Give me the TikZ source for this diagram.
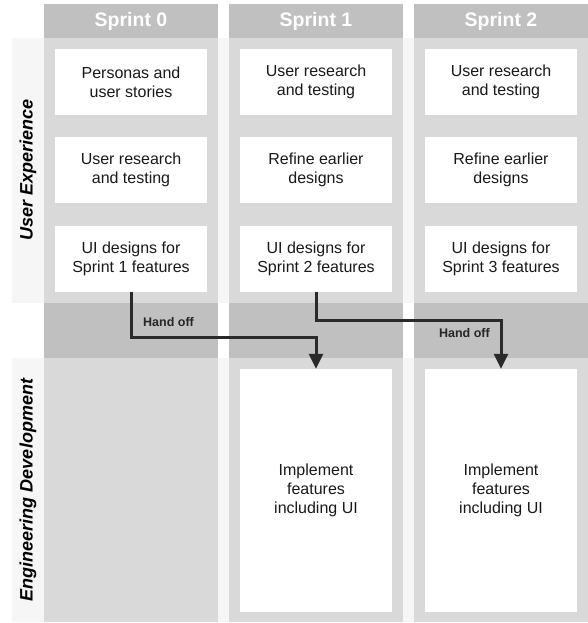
\documentclass[tikz,border=0pt]{standalone}
\usepackage{fontspec}
\setmainfont{Liberation Sans}
\usetikzlibrary{arrows.meta}
\definecolor{lanegray}{HTML}{F6F6F6}
\definecolor{colgray}{HTML}{D9D9D9}
\definecolor{headgray}{HTML}{C0C0C0}
\definecolor{arrowgray}{HTML}{2A2A2A}
\begin{document}
\begin{tikzpicture}[x=1pt,y=-1pt,
    task/.style={fill=white, minimum width=152pt, minimum height=66pt, align=center,
      text=black!90, font=\fontsize{16}{19}\selectfont},
    impl/.style={task, minimum height=243pt},
    head/.style={fill=headgray, minimum width=174pt, minimum height=34pt,
      text=white, font=\fontsize{19.5}{22}\selectfont\bfseries},
    lanelabel/.style={rotate=90, font=\fontsize{18}{21}\selectfont\bfseries\itshape},
    handoff/.style={draw=arrowgray, line width=3pt, -{Triangle[width=14pt,length=15pt]}},
    handlabel/.style={inner sep=0pt, font=\fontsize{12.5}{14}\selectfont\bfseries, text=black!85}]
    \useasboundingbox (0,0) rectangle (587,623);
    % swim lanes
    \fill[lanegray] (12,38) rectangle (587,303);
    \fill[lanegray] (12,358) rectangle (587,622);
    % sprint columns and hand off band
    \foreach \x in {44,229,414} {
      \fill[colgray] (\x,38) rectangle ++(174,584);
      \fill[headgray] (\x,303) rectangle ++(174,55);
    }
    % headers
    \node[head] (s0) at (131,21) {Sprint 0};
    \node[head] (s1) at (316,21) {Sprint 1};
    \node[head] (s2) at (501,21) {Sprint 2};
    % lane labels
    \node[lanelabel] (ux) at (28,170) {User Experience};
    \node[lanelabel] (eng) at (28,490) {Engineering Development};
    % user experience tasks
    \node[task] (pers0) at (131,82) {Personas and\\user stories};
    \node[task] (res0) at (131,170) {User research\\and testing};
    \node[task] (ui0) at (131,259) {UI designs for\\Sprint 1 features};
    \node[task] (res1) at (316,82) {User research\\and testing};
    \node[task] (ref1) at (316,170) {Refine earlier\\designs};
    \node[task] (ui1) at (316,259) {UI designs for\\Sprint 2 features};
    \node[task] (res2) at (501,82) {User research\\and testing};
    \node[task] (ref2) at (501,170) {Refine earlier\\designs};
    \node[task] (ui2) at (501,259) {UI designs for\\Sprint 3 features};
    % engineering tasks
    \node[impl] (impl1) at (316,490.5) {Implement\\features\\including UI};
    \node[impl] (impl2) at (501,490.5) {Implement\\features\\including UI};
    % hand offs
    \draw[handoff] (ui0.south) -- ++(0,45) -| (impl1.north);
    \draw[handoff] (ui1.south) -- ++(0,28) -| (impl2.north);
    \node[handlabel, anchor=west] (ho0) at (143,322) {Hand off};
    \node[handlabel, anchor=east] (ho1) at (490,333) {Hand off};
\end{tikzpicture}
\end{document}
